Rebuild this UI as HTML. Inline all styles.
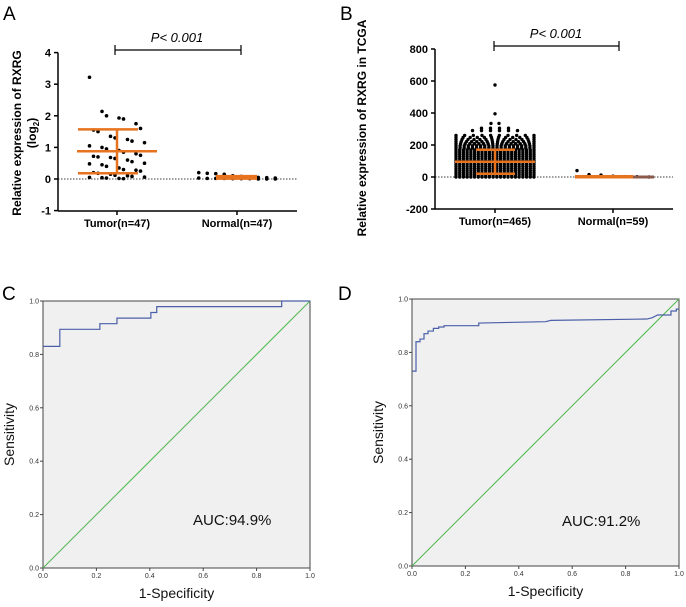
<!DOCTYPE html>
<html><head><meta charset="utf-8"><style>
body{margin:0;background:#fff;width:686px;height:607px;overflow:hidden;font-family:"Liberation Sans",sans-serif}
svg{position:absolute;left:0;top:0}
</style></head><body>
<svg id="s" width="686" height="607" font-family="Liberation Sans, sans-serif">
<text x="3" y="20" font-size="19">A</text>
<text x="340" y="20" font-size="19">B</text>
<text x="2" y="300" font-size="19">C</text>
<text x="338" y="300" font-size="19">D</text>
</svg>
<script>
// ---- data ----
const aTicks=[4,3,2,1,0,-1];
const aTumor=[3.22,2.14,2.0,1.93,1.9,1.75,1.6,1.55,1.5,1.35,1.3,1.25,1.2,1.15,1.05,1.0,0.95,0.9,0.85,0.8,0.75,0.72,0.7,0.68,0.65,0.6,0.55,0.5,0.48,0.45,0.4,0.35,0.3,0.28,0.25,0.2,0.18,0.15,0.12,0.1,0.08,0.06,0.05,0.04,0.03,0.02,0.01];
const aNormal=[0.2,0.18,0.17,0.15,0.1,0.08,0.06,0.05,0.04,0.03,0.03,0.02,0.02,0.02,0.01,0.01,0.01,0,0,0];
const aStats={tumorMean:0.88,tumorHi:1.57,tumorLo:0.18,normalMean:0.05};
const bTicks=[800,600,400,200,0,-200];
const bLevels=[0,13,26,39,52,65,78,91,104,117,130,143,156,169,182,195,208,221,234,247,260,290,305,335,395,575];
const bCounts=[22,22,22,22,22,22,22,22,22,22,22,22,22,22,20,20,18,16,14,12,10,6,4,2,1,1];
const bNormal=[40,15,12,5,3,2,0];
const bStats={tumorMean:95,tumorHi:170,tumorLo:20,normalMean:8};
const rocTicks=[0,0.2,0.4,0.6,0.8,1.0];
const rocC=[[0,0.83],[0.063,0.83],[0.063,0.894],[0.213,0.894],[0.213,0.915],[0.277,0.915],[0.277,0.936],[0.404,0.936],[0.404,0.957],[0.426,0.957],[0.426,0.979],[0.894,0.979],[0.894,1],[1,1]];
const rocD=[[0,0.73],[0.015,0.73],[0.015,0.84],[0.03,0.84],[0.03,0.85],[0.045,0.85],[0.045,0.87],[0.06,0.87],[0.06,0.88],[0.08,0.88],[0.08,0.89],[0.1,0.89],[0.1,0.895],[0.12,0.895],[0.12,0.9],[0.25,0.9],[0.25,0.91],[0.5,0.915],[0.52,0.92],[0.88,0.925],[0.9,0.93],[0.92,0.94],[0.97,0.94],[0.97,0.955],[0.99,0.955],[0.99,0.962],[1,0.962]];
// ---- helpers ----
const S=document.getElementById('s'),NS='http://www.w3.org/2000/svg';
function el(t,a,txt){const e=document.createElementNS(NS,t);for(const k in a)e.setAttribute(k,a[k]);if(txt!=null)e.textContent=txt;S.appendChild(e);return e;}
function ln(x1,y1,x2,y2,c,w,name){const e=el('line',{x1,y1,x2,y2,stroke:c,'stroke-width':w});

return e;}
function tx(x,y,s,size,anchor,name,extra){const e=el('text',Object.assign({x,y,'font-size':size,'text-anchor':anchor},extra||{}),s);

return e;}
function dot(x,y,r,name){const e=el('circle',{cx:x,cy:y,r,fill:'#000'});

}
function orange(x1,y,x2,w,name){ln(x1,y,x2,y,'#e8731f',w,name);}
// ---- Panel A ----
(function(){
const x0=58,x1=297,yv=v=>179-v*31.6;
ln(x0,yv(4),x0,211,'#000',1.5,'a-y-axis');ln(x0,211,x1,211,'#000',1.5,'a-x-axis');
aTicks.forEach(t=>{ln(x0-4,yv(t),x0,yv(t),'#000',1.5,'a-y-tick');tx(x0-7,yv(t)+4,String(t),11,'end','a-y-tick-label',{'font-weight':'bold'});});
ln(117,211,117,215,'#000',1.5,'a-x-tick');ln(237,211,237,215,'#000',1.5,'a-x-tick');
tx(117,227,'Tumor(n=47)',11,'middle','a-x-label-tumor',{'font-weight':'bold'});
tx(237,227,'Normal(n=47)',11,'middle','a-x-label-normal',{'font-weight':'bold'});
const d=ln(x0,yv(0),x1,yv(0),'#000',0.8,'a-zero-line');d.setAttribute('stroke-dasharray','1.5,1.5');
tx(0,0,'Relative expression of RXRG',12,'middle','a-y-axis-title',{'font-weight':'bold',transform:'translate(21,133) rotate(-90)'});
tx(0,0,'',12,'middle','a-y-axis-title-2',{'font-weight':'bold',transform:'translate(36,133) rotate(-90)'}).innerHTML='(log<tspan font-size="8" dy="3">2</tspan><tspan dy="-3">)</tspan>';
aTumor.forEach((v,i)=>{const off=((i%7)-3)*8.5+(i%2?2:-2);dot(117+off,yv(v),1.8,'a-tumor-dot');});
aNormal.forEach((v,i)=>{const off=((i%10)-4.5)*8.5;dot(237+off,yv(v),1.8,'a-normal-dot');});
ln(117,yv(aStats.tumorHi),117,yv(aStats.tumorLo),'#e8731f',2.5,'a-tumor-sd-bar');
orange(78,yv(aStats.tumorHi),138,2.5,'a-tumor-sd-cap');orange(78,yv(aStats.tumorLo),138,2.5,'a-tumor-sd-cap');
orange(77,yv(aStats.tumorMean),157,2.5,'a-tumor-mean');
orange(216,yv(aStats.normalMean),257,5,'a-normal-mean');
ln(115,50,241,50,'#000',1.2,'a-sig-bracket');ln(115,45,115,55,'#000',1.2,'a-sig-cap');ln(241,45,241,55,'#000',1.2,'a-sig-cap');
tx(177,42,'P< 0.001',13,'middle','a-p-value',{'font-style':'italic'});
})();
// ---- Panel B ----
(function(){
const x0=435,x1=673,yv=v=>177-v*0.16;
ln(x0,yv(800),x0,209,'#000',1.5,'b-y-axis');ln(x0,209,x1,209,'#000',1.5,'b-x-axis');
bTicks.forEach(t=>{ln(x0-4,yv(t),x0,yv(t),'#000',1.5,'b-y-tick');tx(x0-7,yv(t)+4,String(t),11,'end','b-y-tick-label',{'font-weight':'bold'});});
ln(495,209,495,213,'#000',1.5,'b-x-tick');ln(613,209,613,213,'#000',1.5,'b-x-tick');
tx(495,225,'Tumor(n=465)',11,'middle','b-x-label-tumor',{'font-weight':'bold'});
tx(613,225,'Normal(n=59)',11,'middle','b-x-label-normal',{'font-weight':'bold'});
const d=ln(x0,yv(0),x1,yv(0),'#000',0.8,'b-zero-line');d.setAttribute('stroke-dasharray','1.5,1.5');
tx(0,0,'Relative expression of RXRG in TCGA',12,'middle','b-y-axis-title',{'font-weight':'bold',transform:'translate(366,128) rotate(-90)'});
bLevels.forEach((v,i)=>{const n=bCounts[i];const sp=n>=4?Math.max(3.7,Math.min(78/(n-1),9)):8;for(let k=0;k<n;k++){const off=(k-(n-1)/2)*sp;dot(495+off,yv(v),1.7,'b-tumor-dot');}});
bNormal.forEach((v,i)=>{const off=((i%7)-3)*12;dot(613+off,yv(v),1.7,'b-normal-dot');});
ln(495,yv(bStats.tumorHi),495,yv(bStats.tumorLo),'#e8731f',2.5,'b-tumor-sd-bar');
orange(476,yv(bStats.tumorHi),515,2.5,'b-tumor-sd-cap');orange(476,yv(bStats.tumorLo),515,2.5,'b-tumor-sd-cap');
orange(455,yv(bStats.tumorMean),535,2.5,'b-tumor-mean');
ln(575,yv(0),654,yv(0),'#8b5a4a',3,'b-normal-box');
orange(575,yv(bStats.normalMean)+1,633,3.5,'b-normal-mean');
ln(494,46,619,46,'#000',1.2,'b-sig-bracket');ln(494,41,494,51,'#000',1.2,'b-sig-cap');ln(619,41,619,51,'#000',1.2,'b-sig-cap');
tx(556,38,'P< 0.001',13,'middle','b-p-value',{'font-style':'italic'});
})();
// ---- ROC panels ----
function roc(p,L,R,T,B,data,auc,aucX,aucY){
const xs=v=>L+v*(R-L),ys=v=>B-v*(B-T);
const r=el('rect',{x:L,y:T,width:R-L,height:B-T,fill:'#f0f0f0',stroke:'#444','stroke-width':1});


rocTicks.forEach(t=>{ln(L-3,ys(t),L,ys(t),'#444',1,p+'-y-tick');tx(L-4,ys(t)+2.5,t.toFixed(1),7,'end',p+'-y-tick-label',{fill:'#333'});
ln(xs(t),B,xs(t),B+3,'#444',1,p+'-x-tick');tx(xs(t),B+10,t.toFixed(1),7,'middle',p+'-x-tick-label',{fill:'#333'});});
ln(xs(0),ys(0),xs(1),ys(1),'#4cb84c',1,p+'-reference-line');
const pl=el('polyline',{points:data.map(d=>xs(d[0])+','+ys(d[1])).join(' '),fill:'none',stroke:'#4a5fa8','stroke-width':1.2});


tx(aucX,aucY,auc,15,'start',p+'-auc-label',{fill:'#111'});
tx((L+R)/2,B+30,'1-Specificity',14,'middle',p+'-x-axis-title',{fill:'#111'});
tx(0,0,'Sensitivity',14,'middle',p+'-y-axis-title',{fill:'#111',transform:'translate('+(L-29)+','+((T+B)/2)+') rotate(-90)'});
}
roc('c',43,310,301,568,rocC,'AUC:94.9%',193,525);
roc('d',412,679,299,566,rocD,'AUC:91.2%',562,526);
</script>
</body></html>
